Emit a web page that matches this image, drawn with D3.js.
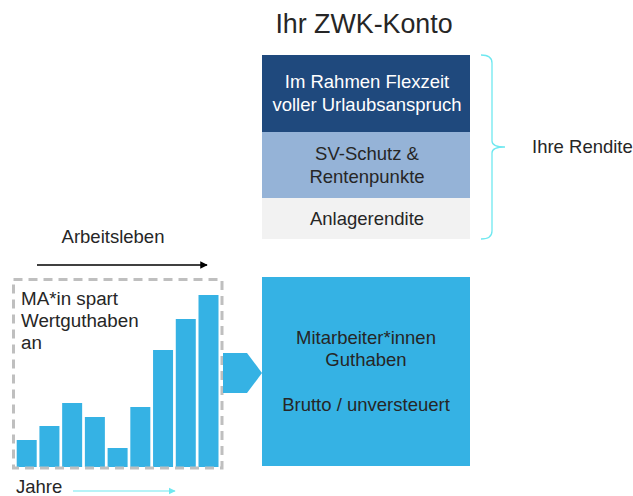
<!DOCTYPE html>
<html>
<head>
<meta charset="utf-8">
<script src="https://cdn.jsdelivr.net/npm/d3@7"></script>
<style>
  body { margin: 0; background: #fff; }
  svg { display: block; font-family: "Liberation Sans", Arial, sans-serif; }
</style>
</head>
<body>
<svg width="633" height="496"></svg>
<script>
// savings per year (relative heights)
const years = [1, 2, 3, 4, 5, 6, 7, 8, 9];
const savings = [27, 41, 64, 50, 19, 60, 117, 148, 172];

// return layers of the account, top to bottom
const layerKeys = ['flex', 'sv', 'anlage'];
const layerLabels = [
  ['Im Rahmen Flexzeit', 'voller Urlaubsanspruch'],
  ['SV-Schutz &', 'Rentenpunkte'],
  ['Anlagerendite']
];
const layerSizes = [77, 66, 41];
const layerColors = ['#1f497d', '#95b3d7', '#f2f2f2'];
const layerText = ['#ffffff', '#262626', '#262626'];

const guthabenLines = ['Mitarbeiter*innen', 'Guthaben', '', 'Brutto / unversteuert'];

const svg = d3.select('svg');
const ink = '#262626';
const blue = '#35b2e4';
const cyan = '#6fe8f0';
const fs = 18.5;

svg.append('defs').call(defs => {
  defs.append('marker').attr('id', 'headBlack')
    .attr('viewBox', '0 0 10 10').attr('refX', 9).attr('refY', 5)
    .attr('markerWidth', 5).attr('markerHeight', 5).attr('orient', 'auto')
    .append('path').attr('d', 'M0,0L10,5L0,10Z').attr('fill', '#000');
  defs.append('marker').attr('id', 'headCyan')
    .attr('viewBox', '0 0 10 10').attr('refX', 9).attr('refY', 5)
    .attr('markerWidth', 6).attr('markerHeight', 6).attr('orient', 'auto')
    .append('path').attr('d', 'M0,0L10,5L0,10Z').attr('fill', cyan);
});

// title
svg.append('text')
  .attr('x', 364).attr('y', 33)
  .attr('text-anchor', 'middle')
  .attr('font-size', 26.8)
  .attr('fill', ink)
  .text('Ihr ZWK-Konto');

// stacked return layers
const stackX = 262, stackW = 208;
const stackY = d3.scaleLinear()
  .domain([0, d3.sum(layerSizes)])
  .range([55, 239]);
const offsets = d3.cumsum([0].concat(layerSizes));

const layers = svg.selectAll('.layer')
  .data(layerKeys)
  .enter().append('g')
  .attr('class', 'layer');

layers.append('rect')
  .attr('x', stackX)
  .attr('y', (d, i) => stackY(offsets[i]))
  .attr('width', stackW)
  .attr('height', (d, i) => stackY(offsets[i + 1]) - stackY(offsets[i]))
  .attr('fill', (d, i) => layerColors[i]);

layers.each(function (d, i) {
  const lines = layerLabels[i];
  const mid = (stackY(offsets[i]) + stackY(offsets[i + 1])) / 2;
  const lh = 23;
  d3.select(this).selectAll('text')
    .data(lines)
    .enter().append('text')
    .attr('x', stackX + stackW / 2 + 1)
    .attr('y', (t, j) => mid + (j - (lines.length - 1) / 2) * lh + 6)
    .attr('text-anchor', 'middle')
    .attr('font-size', fs)
    .attr('fill', layerText[i])
    .text(t => t);
});

// curly bracket
const bTop = stackY(0), bBot = stackY(d3.sum(layerSizes));
const bMid = 147;
const bracket = d3.path();
bracket.moveTo(481, bTop);
bracket.quadraticCurveTo(492, bTop, 492, bTop + 8);
bracket.lineTo(492, bMid - 6);
bracket.quadraticCurveTo(492, bMid, 505, bMid);
bracket.quadraticCurveTo(492, bMid, 492, bMid + 6);
bracket.lineTo(492, bBot - 8);
bracket.quadraticCurveTo(492, bBot, 481, bBot);
svg.append('path')
  .attr('d', bracket.toString())
  .attr('fill', 'none')
  .attr('stroke', cyan)
  .attr('stroke-width', 1.3);

svg.append('text')
  .attr('x', 532).attr('y', 153)
  .attr('font-size', fs)
  .attr('fill', ink)
  .text('Ihre Rendite');

// Arbeitsleben arrow
svg.append('text')
  .attr('x', 113).attr('y', 243)
  .attr('text-anchor', 'middle')
  .attr('font-size', fs)
  .attr('fill', ink)
  .text('Arbeitsleben');
svg.append('line')
  .attr('x1', 37).attr('x2', 207)
  .attr('y1', 265).attr('y2', 265)
  .attr('stroke', '#000').attr('stroke-width', 1.5)
  .attr('marker-end', 'url(#headBlack)');

// savings bars
const x = d3.scaleBand()
  .domain(years)
  .range([16.7, 218.5])
  .paddingInner(0.12);
const y = d3.scaleLinear()
  .domain([0, d3.max(savings)])
  .range([467, 295]);

svg.selectAll('.bar')
  .data(savings)
  .enter().append('rect')
  .attr('class', 'bar')
  .attr('x', (d, i) => x(years[i]))
  .attr('y', d => y(d))
  .attr('width', x.bandwidth())
  .attr('height', d => y(0) - y(d))
  .attr('fill', blue);

// dashed frame
svg.append('rect')
  .attr('x', 13.5).attr('y', 279.5)
  .attr('width', 208.5).attr('height', 188.5)
  .attr('fill', 'none')
  .attr('stroke', '#bfbfbf')
  .attr('stroke-width', 3)
  .attr('stroke-dasharray', '9,6');

svg.append('g').selectAll('text')
  .data(['MA*in spart', 'Wertguthaben', 'an'])
  .enter().append('text')
  .attr('x', 21)
  .attr('y', (d, i) => 305 + i * 22)
  .attr('font-size', 18.8)
  .attr('fill', ink)
  .text(d => d);

// chevron to account box
svg.append('path')
  .attr('d', 'M223,353L247,353L262,373L247,393L223,393Z')
  .attr('fill', blue);

// account box
svg.append('rect')
  .attr('x', 262).attr('y', 277)
  .attr('width', 208).attr('height', 189)
  .attr('fill', blue);

svg.append('g').selectAll('text')
  .data(guthabenLines)
  .enter().append('text')
  .attr('x', 366)
  .attr('y', (d, i) => 344 + i * 22.3)
  .attr('text-anchor', 'middle')
  .attr('font-size', fs)
  .attr('fill', ink)
  .text(d => d);

// Jahre arrow
svg.append('text')
  .attr('x', 16).attr('y', 493)
  .attr('font-size', fs)
  .attr('fill', ink)
  .text('Jahre');
svg.append('line')
  .attr('x1', 73).attr('x2', 175)
  .attr('y1', 491).attr('y2', 491)
  .attr('stroke', cyan).attr('stroke-width', 1.2)
  .attr('marker-end', 'url(#headCyan)');
</script>
</body>
</html>
